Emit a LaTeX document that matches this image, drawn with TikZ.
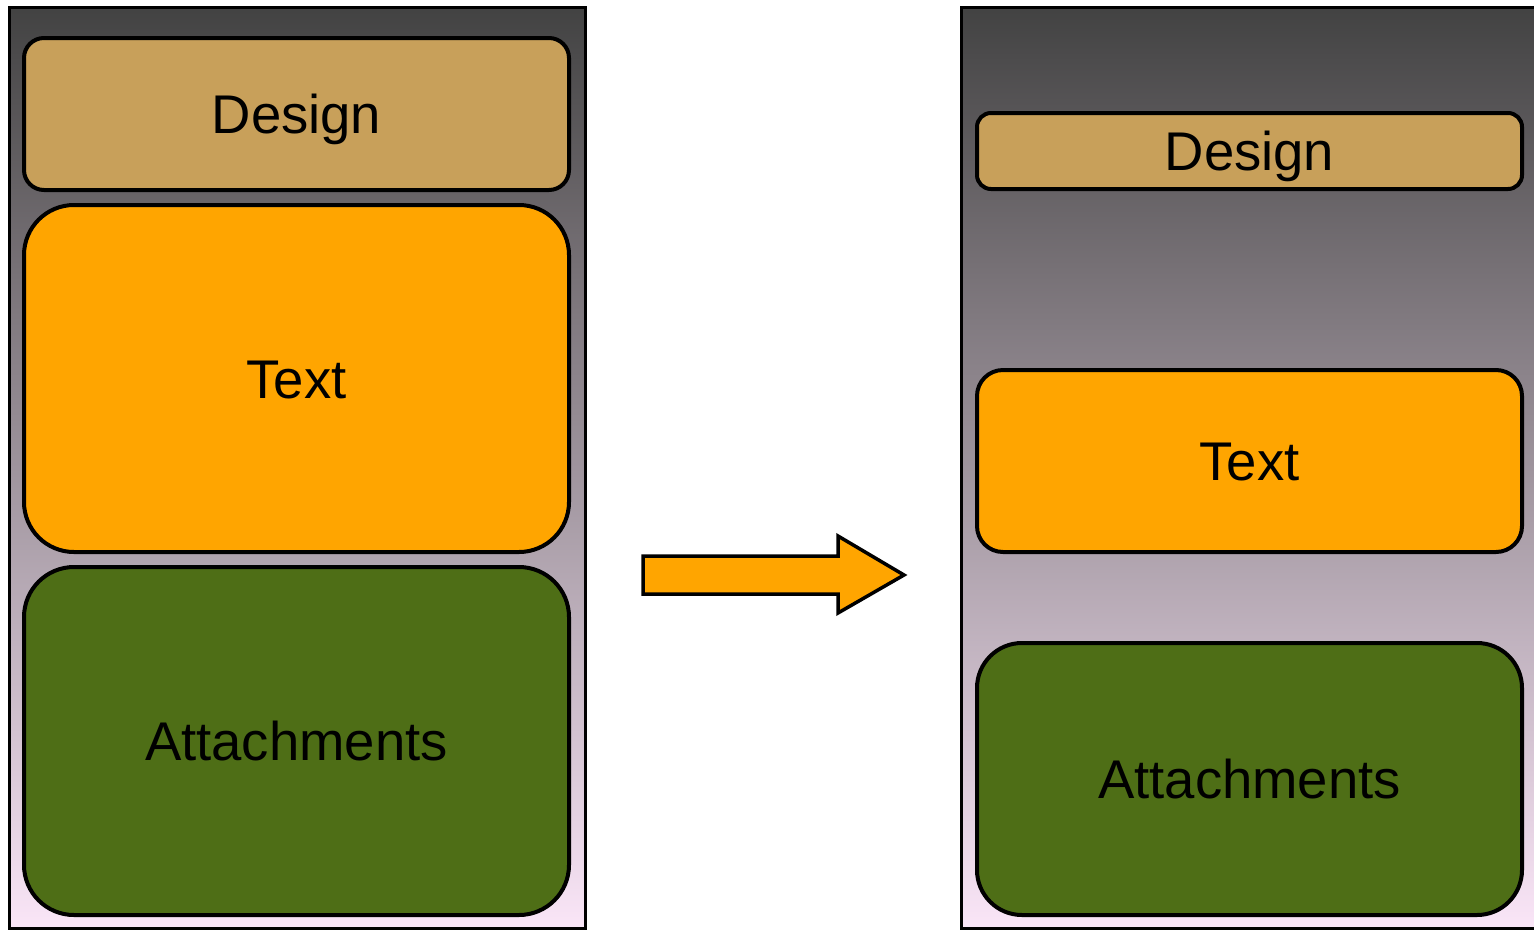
\documentclass[tikz,border=0pt]{standalone}
\usepackage{fontspec}
\setmainfont{Liberation Sans}
\definecolor{designc}{RGB}{200,160,90}
\definecolor{textc}{RGB}{255,165,0}
\definecolor{attc}{RGB}{78,110,22}
\pgfdeclareverticalshading{panelshade}{100bp}{
  rgb(0bp)=(0.98,0.90,0.97);
  rgb(25bp)=(0.98,0.90,0.97);
  rgb(75bp)=(0.26,0.26,0.26);
  rgb(100bp)=(0.26,0.26,0.26)}
\tikzset{
  panel/.style={draw=black, line width=3pt, shading=panelshade, rectangle, inner sep=0pt, outer sep=0pt},
  blockbox/.style={draw=black, line width=4pt, rectangle, inner sep=0pt, outer sep=0pt, minimum width=545pt,
    font=\fontsize{54.5}{60}\selectfont, text=black, text height=39pt, text depth=0pt},
  bigarrow/.style={draw=black, line width=3.5pt, fill=textc, line join=miter}
}
\begin{document}
\begin{tikzpicture}[x=1pt,y=-1pt]
\useasboundingbox (0,0) rectangle (1534,930);
% panels
\node[panel, minimum width=576pt, minimum height=921pt] (lpanel) at (297,467.5) {};
\node[panel, minimum width=590pt, minimum height=921pt] (rpanel) at (1256,467.5) {};
% left boxes
\node[blockbox, fill=designc, rounded corners=20pt, minimum height=152pt] (ldesign) at (296.5,114) {Design};
\node[blockbox, fill=textc, rounded corners=50pt, minimum height=347pt] (ltext) at (296.5,378.5) {Text};
\node[blockbox, fill=attc, rounded corners=50pt, minimum height=348pt] (latt) at (296.5,741) {Attachments};
% right boxes
\node[blockbox, fill=designc, rounded corners=14pt, minimum height=76pt] (rdesign) at (1249.5,151) {Design};
\node[blockbox, fill=textc, rounded corners=26pt, minimum height=182pt] (rtext) at (1249.5,461) {Text};
\node[blockbox, fill=attc, rounded corners=45pt, minimum height=272pt] (ratt) at (1249.5,779) {Attachments};
% arrow
\coordinate (as) at (643,575);
\coordinate (at) at (904,575);
\draw[bigarrow] (643,556) -- (838,556) -- (838,536) -- (at) -- (838,613) -- (838,594) -- (643,594) -- cycle;
\end{tikzpicture}
\end{document}
